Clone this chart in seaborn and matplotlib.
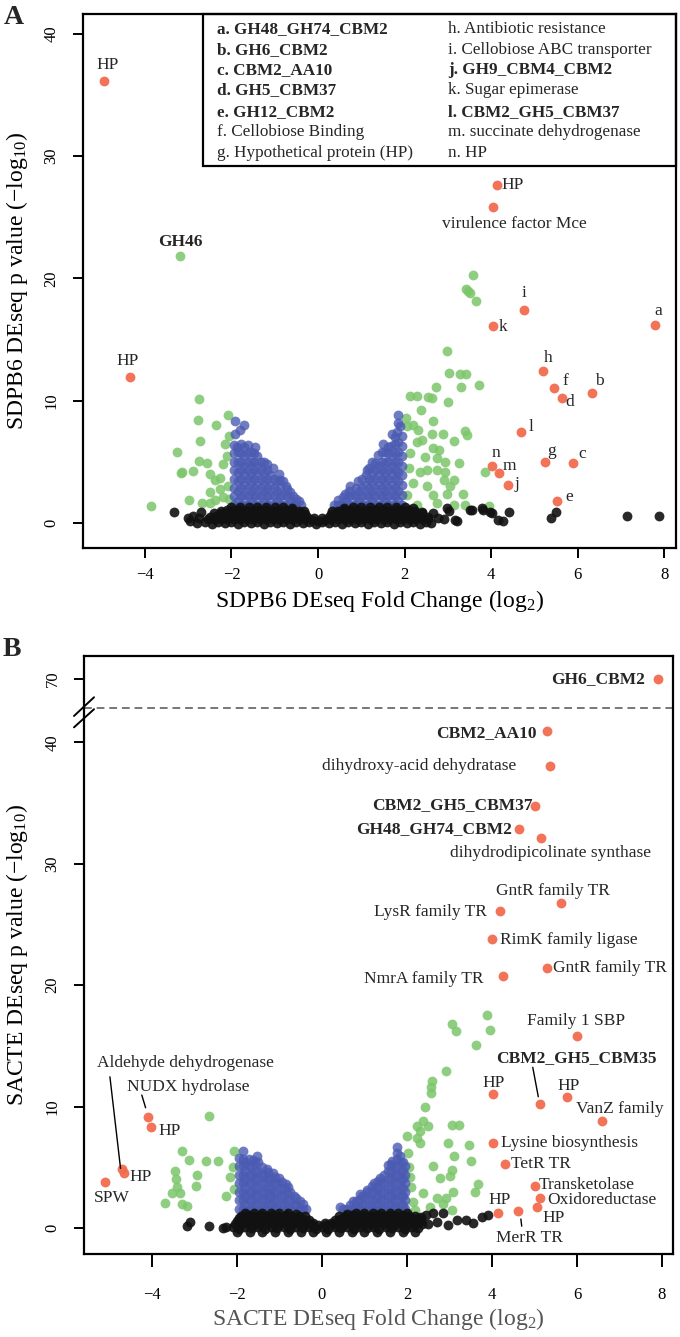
import numpy as np
import pandas as pd
import matplotlib
matplotlib.use('Agg')
import matplotlib.pyplot as plt
import seaborn as sns
from matplotlib.patches import Rectangle

sns.set_theme(style='white')
plt.rcParams['font.family'] = ['Liberation Serif', 'DejaVu Serif']
plt.rcParams['mathtext.fontset'] = 'custom'
plt.rcParams['mathtext.rm'] = 'Liberation Serif'
plt.rcParams['mathtext.it'] = 'Liberation Serif:italic'
plt.rcParams['axes.unicode_minus'] = True

RED = '#F26B4E'
GREEN = '#7CC66A'
BLUE = '#4B5BB2'
BLACK = '#111111'

# ---------------- Panel A data (SDPB6) ----------------
A_x_ticks = [-4, -2, 0, 2, 4, 6, 8]
A_y_ticks = [0, 10, 20, 30, 40]

A_green = [
    (-2.75, 10.1), (-2.78, 8.4), (-2.36, 8.0), (-2.07, 8.8), (-2.73, 6.7), (-3.26, 5.8),
    (-2.76, 5.1), (-2.56, 4.9), (-3.17, 4.1), (-2.88, 4.25), (-2.49, 4.0), (-2.19, 4.8),
    (-2.15, 6.5), (-2.05, 7.1), (-2.26, 3.65), (-2.38, 3.5), (-2.49, 2.5), (-2.26, 2.8),
    (-2.97, 1.9), (-2.69, 1.66), (-2.38, 1.9), (-3.86, 1.4), (-2.19, 2.15), (-2.07, 3.0),
    (-2.49, 1.6), (-3.15, 4.2), (-2.1, 5.5), (-2.05, 2.0),
    (3.57, 20.3), (3.41, 19.1), (3.51, 18.8), (3.65, 18.15), (3.46, 19.0), (2.99, 14.1),
    (3.03, 12.3), (3.28, 12.2), (3.41, 12.2), (3.30, 11.1), (3.73, 11.3), (2.73, 11.15),
    (2.12, 10.4), (2.28, 10.4), (2.55, 10.3), (2.63, 10.2), (3.0, 9.9), (2.39, 9.2),
    (2.03, 8.6), (2.65, 8.3), (2.32, 7.6), (2.63, 7.3), (2.88, 7.3), (3.39, 7.5),
    (3.44, 7.2), (3.13, 6.7), (2.29, 6.6), (2.66, 6.1), (2.12, 5.7), (2.47, 5.4),
    (2.74, 5.3), (2.93, 5.0), (3.26, 4.9), (2.36, 4.2), (2.51, 4.3), (2.74, 4.3),
    (2.93, 4.2), (3.86, 4.2), (2.2, 3.25), (2.51, 3.0), (2.9, 3.5), (3.13, 3.5),
    (2.66, 2.3), (2.97, 2.4), (3.36, 2.4), (2.28, 1.5), (2.74, 1.6), (3.13, 1.5),
    (3.39, 1.5), (2.05, 2.3), (2.05, 7.9), (3.95, 1.4), (2.2, 8.0), (2.4, 6.8),
    (2.8, 6.0), (3.05, 3.0), (2.1, 4.5),
]
A_gh46 = (-3.19, 21.8)

A_blue = [
    (-1.95, 1.5), (-1.95, 2.2), (-1.95, 2.9), (-1.95, 3.6), (-1.95, 4.3), (-1.95, 5.0),
    (-1.95, 5.7), (-1.95, 6.4), (-1.92, 7.3), (-1.92, 8.3),
    (-1.85, 1.8), (-1.85, 2.6), (-1.85, 3.4), (-1.85, 4.2), (-1.85, 5.0), (-1.85, 5.8), (-1.88, 6.2),
    (-1.78, 1.5), (-1.78, 2.2), (-1.78, 2.9), (-1.78, 3.6), (-1.78, 4.3), (-1.78, 5.0), (-1.78, 5.7), (-1.78, 6.5), (-1.80, 7.6),
    (-1.70, 1.5), (-1.70, 2.3), (-1.70, 3.1), (-1.70, 3.9), (-1.70, 4.7), (-1.70, 5.5), (-1.70, 6.2), (-1.70, 8.0),
    (-1.62, 1.5), (-1.62, 2.2), (-1.62, 2.9), (-1.62, 3.6), (-1.62, 4.3), (-1.62, 5.0), (-1.62, 5.7), (-1.62, 6.4),
    (-1.55, 1.8), (-1.55, 2.6), (-1.55, 3.4), (-1.55, 4.2), (-1.55, 5.0), (-1.55, 5.8), (-1.46, 6.2),
    (-1.48, 1.5), (-1.48, 2.2), (-1.48, 2.9), (-1.48, 3.6), (-1.48, 4.3), (-1.48, 5.0), (-1.48, 5.7),
    (-1.40, 1.5), (-1.40, 2.3), (-1.40, 3.1), (-1.40, 3.9), (-1.40, 4.7), (-1.40, 5.5),
    (-1.32, 1.5), (-1.32, 2.2), (-1.32, 2.9), (-1.32, 3.6), (-1.32, 4.3), (-1.32, 5.0),
    (-1.25, 1.8), (-1.25, 2.6), (-1.25, 3.4), (-1.25, 4.2), (-1.25, 5.0),
    (-1.18, 1.5), (-1.18, 2.2), (-1.18, 2.9), (-1.18, 3.6), (-1.18, 4.3), (-1.18, 4.8),
    (-1.10, 1.5), (-1.10, 2.3), (-1.10, 3.1), (-1.10, 3.9), (-1.03, 4.5),
    (-1.02, 1.5), (-1.02, 2.2), (-1.02, 2.9), (-1.02, 3.6),
    (-0.95, 1.8), (-0.95, 2.6), (-0.95, 3.4), (-0.90, 4.0),
    (-0.88, 1.5), (-0.88, 2.2), (-0.88, 2.9), (-0.88, 3.5),
    (-0.80, 1.5), (-0.80, 2.3), (-0.75, 3.0), (-0.80, 3.4),
    (-0.72, 1.5), (-0.72, 2.2), (-0.72, 2.8),
    (-0.65, 1.8), (-0.65, 2.5), (-0.58, 1.5), (-0.58, 2.2),
    (-0.50, 1.5), (-0.50, 2.0), (-0.45, 1.8), (-0.40, 1.5),
    (1.95, 1.5), (1.95, 2.3), (1.95, 3.1), (1.95, 3.9), (1.95, 4.7), (1.95, 5.5), (1.95, 6.3), (1.93, 7.1), (1.89, 7.9),
    (1.85, 1.8), (1.85, 2.6), (1.85, 3.4), (1.85, 4.2), (1.85, 5.0), (1.85, 5.8), (1.85, 6.6), (1.82, 7.4), (1.85, 8.2), (1.85, 8.8),
    (1.78, 1.5), (1.78, 2.2), (1.78, 2.9), (1.78, 3.6), (1.78, 4.3), (1.78, 5.0), (1.78, 5.7), (1.78, 6.5), (1.78, 7.0),
    (1.70, 1.5), (1.70, 2.3), (1.70, 3.1), (1.70, 3.9), (1.70, 4.7), (1.70, 5.5), (1.68, 6.3), (1.70, 7.3),
    (1.62, 1.5), (1.62, 2.2), (1.62, 2.9), (1.62, 3.6), (1.62, 4.3), (1.62, 5.0), (1.62, 5.7), (1.62, 6.2),
    (1.55, 1.8), (1.55, 2.6), (1.55, 3.4), (1.55, 4.2), (1.55, 5.0), (1.55, 5.8), (1.50, 6.5),
    (1.48, 1.5), (1.48, 2.2), (1.48, 2.9), (1.48, 3.6), (1.48, 4.3), (1.48, 5.0), (1.48, 5.8),
    (1.40, 1.5), (1.40, 2.3), (1.40, 3.1), (1.40, 3.9), (1.40, 4.7), (1.38, 5.6),
    (1.32, 1.5), (1.32, 2.2), (1.32, 2.9), (1.32, 3.6), (1.32, 4.3), (1.32, 4.9),
    (1.25, 1.8), (1.25, 2.6), (1.25, 3.4), (1.25, 4.2), (1.25, 5.0),
    (1.18, 1.5), (1.18, 2.2), (1.18, 2.9), (1.18, 3.6), (1.18, 4.5),
    (1.10, 1.5), (1.10, 2.3), (1.10, 3.1), (1.10, 3.9), (1.12, 4.3),
    (1.02, 1.5), (1.02, 2.2), (1.02, 2.9), (1.02, 3.6),
    (0.95, 1.8), (0.95, 2.6), (0.92, 3.4),
    (0.88, 1.5), (0.88, 2.2), (0.88, 2.9),
    (0.80, 1.5), (0.80, 2.3), (0.75, 3.0),
    (0.72, 1.5), (0.72, 2.2), (0.72, 2.6),
    (0.65, 1.8), (0.62, 2.4), (0.58, 1.5), (0.58, 2.1),
    (0.50, 1.5), (0.45, 1.9), (0.45, 1.5), (0.38, 1.5),
]

A_black = [
    (-3.33, 0.9), (-3.0, 0.4), (-2.9, 0.6), (-2.95, 0.15), (-2.75, 0.45), (-2.7, 0.9), (-2.8, 0.0),
    (-2.6, 0.05), (-2.45, -0.05), (-2.3, 0.1), (-2.15, 0.0), (-2.0, 0.05), (-1.85, -0.05),
    (-1.7, 0.1), (-1.55, 0.0), (-1.4, 0.05), (-1.25, -0.05), (-1.1, 0.1), (-0.95, 0.0),
    (-0.8, 0.05), (-0.65, -0.05), (-0.5, 0.1), (-0.35, 0.0), (-0.2, 0.05), (-0.05, -0.05),
    (0.1, 0.1), (0.25, 0.0), (0.4, 0.05), (0.55, -0.05), (0.7, 0.1), (0.85, 0.0),
    (1.0, 0.05), (1.15, -0.05), (1.3, 0.1), (1.45, 0.0), (1.6, 0.05), (1.75, -0.05),
    (1.9, 0.1), (2.05, 0.0), (2.2, 0.05), (2.35, -0.05), (2.5, 0.1), (2.62, 0.0),
    (-2.55, 0.3), (-2.4, 0.3), (-2.25, 0.3), (-2.1, 0.3), (-1.95, 0.3), (-1.8, 0.3),
    (-1.65, 0.3), (-1.5, 0.3), (-1.35, 0.3), (-1.2, 0.3), (-1.05, 0.3), (-0.9, 0.3),
    (-0.75, 0.3), (-0.6, 0.3), (-0.45, 0.3), (-0.3, 0.3), (-0.15, 0.25), (0.0, 0.2),
    (0.15, 0.25), (0.3, 0.3), (0.45, 0.3), (0.6, 0.3), (0.75, 0.3), (0.9, 0.3),
    (1.05, 0.3), (1.2, 0.3), (1.35, 0.3), (1.5, 0.3), (1.65, 0.3), (1.8, 0.3),
    (1.95, 0.3), (2.1, 0.3), (2.25, 0.3), (2.4, 0.3), (2.55, 0.3),
    (-2.5, 0.5), (-2.35, 0.6), (-2.2, 0.5), (-2.05, 0.55), (-1.9, 0.6), (-1.75, 0.5),
    (-1.6, 0.55), (-1.45, 0.6), (-1.3, 0.5), (-1.15, 0.55), (-1.0, 0.6), (-0.85, 0.5),
    (-0.7, 0.55), (-0.55, 0.6), (-0.4, 0.5), (-0.25, 0.5), (-0.1, 0.4), (0.1, 0.4),
    (0.25, 0.5), (0.4, 0.55), (0.55, 0.6), (0.7, 0.5), (0.85, 0.55), (1.0, 0.6),
    (1.15, 0.5), (1.3, 0.55), (1.45, 0.6), (1.6, 0.5), (1.75, 0.55), (1.9, 0.6),
    (2.05, 0.5), (2.2, 0.55), (2.35, 0.6), (2.55, 0.5),
    (-2.4, 0.8), (-2.25, 0.8), (-2.1, 0.8), (-1.95, 0.8), (-1.8, 0.8), (-1.65, 0.8),
    (-1.5, 0.8), (-1.35, 0.8), (-1.2, 0.8), (-1.05, 0.8), (-0.9, 0.8), (-0.75, 0.8),
    (-0.6, 0.8), (-0.45, 0.8), (-0.3, 0.75), (0.3, 0.75), (0.45, 0.8), (0.6, 0.8),
    (0.75, 0.8), (0.9, 0.8), (1.05, 0.8), (1.2, 0.8), (1.35, 0.8), (1.5, 0.8),
    (1.65, 0.8), (1.8, 0.8), (1.95, 0.8), (2.1, 0.8), (2.25, 0.8), (2.4, 0.8),
    (-2.25, 1.0), (-2.1, 1.1), (-1.95, 1.05), (-1.8, 1.1), (-1.65, 1.0), (-1.5, 1.1),
    (-1.35, 1.05), (-1.2, 1.1), (-1.05, 1.0), (-0.9, 1.1), (-0.75, 1.05), (-0.6, 1.1),
    (-0.45, 1.0), (-0.32, 0.95), (0.32, 0.95), (0.45, 1.0), (0.6, 1.1), (0.75, 1.05),
    (0.9, 1.1), (1.05, 1.0), (1.2, 1.1), (1.35, 1.05), (1.5, 1.1), (1.65, 1.0),
    (1.8, 1.1), (1.95, 1.05), (2.1, 1.1), (2.25, 1.0), (2.4, 0.9),
    (-2.0, 1.3), (-1.8, 1.3), (-1.6, 1.3), (-1.4, 1.3), (-1.2, 1.3), (-1.0, 1.3),
    (-0.8, 1.3), (-0.6, 1.25), (0.6, 1.25), (0.8, 1.3), (1.0, 1.3), (1.2, 1.3),
    (1.4, 1.3), (1.6, 1.3), (1.8, 1.3), (2.0, 1.3), (2.2, 1.25),
    (2.65, 0.8), (2.78, 0.4), (2.97, 1.2), (3.02, 0.95), (2.9, 0.3), (3.16, 0.25),
    (3.21, 0.2), (3.51, 1.1), (3.56, 1.05), (3.78, 1.2), (3.82, 1.1), (3.97, 0.9),
    (4.01, 0.85), (4.16, 0.25), (4.27, 0.2), (4.42, 0.9), (5.39, 0.4), (5.49, 0.9),
    (7.14, 0.6), (7.87, 0.6),
]

A_red_names = ['HP', 'HP', 'HP', 'virulence factor Mce', 'i', 'k', 'a', 'h', 'f', 'd',
               'b', 'l', 'n', 'm', 'g', 'c', 'j', 'e']
A_red_x = [-4.94, -4.34, 4.13, 4.04, 4.76, 4.04, 7.78, 5.20, 5.46, 5.63,
           6.34, 4.68, 4.03, 4.17, 5.24, 5.90, 4.40, 5.53]
A_red_y = [36.1, 11.9, 27.6, 25.8, 17.4, 16.1, 16.2, 12.4, 11.0, 10.2,
           10.6, 7.4, 4.7, 4.1, 5.0, 4.9, 3.1, 1.8]

A_legend_col1 = ['a. GH48_GH74_CBM2', 'b. GH6_CBM2', 'c. CBM2_AA10', 'd. GH5_CBM37',
                 'e. GH12_CBM2', 'f. Cellobiose Binding', 'g. Hypothetical protein (HP)']
A_legend_col1_bold = [True, True, True, True, True, False, False]
A_legend_col2 = ['h. Antibiotic resistance', 'i. Cellobiose ABC transporter', 'j. GH9_CBM4_CBM2',
                 'k. Sugar epimerase', 'l. CBM2_GH5_CBM37', 'm. succinate dehydrogenase', 'n. HP']
A_legend_col2_bold = [False, False, True, False, True, False, False]

# ---------------- Panel B data (SACTE) ----------------
B_x_ticks = [-4, -2, 0, 2, 4, 6, 8]
B_y_tick_values = [0, 10, 20, 30, 40, 70]

B_green = [
    (-2.66, 9.2), (-3.30, 6.3), (-3.12, 5.6), (-2.73, 5.55), (-2.44, 5.55), (-2.07, 6.3),
    (-3.46, 4.7), (-3.44, 4.0), (-2.93, 4.35), (-2.96, 3.5), (-3.40, 3.35), (-3.54, 2.9),
    (-3.34, 2.85), (-3.69, 2.1), (-3.30, 2.0), (-3.18, 1.8), (-2.16, 4.2), (-2.26, 2.6),
    (-2.07, 3.2), (-2.1, 5.0),
    (3.89, 17.5), (3.95, 16.3), (3.07, 16.8), (3.15, 16.2), (3.62, 15.1), (2.91, 12.9),
    (2.58, 12.1), (2.56, 11.6), (2.56, 11.1), (2.42, 10.0), (2.37, 8.8), (2.24, 8.4),
    (2.50, 8.4), (3.07, 8.5), (3.23, 8.5), (1.99, 7.6), (2.23, 7.4), (2.31, 7.0),
    (2.96, 7.0), (3.46, 6.8), (2.03, 6.15), (3.11, 5.9), (3.51, 5.5), (2.62, 5.1),
    (3.05, 4.8), (2.07, 4.2), (2.78, 4.1), (3.01, 4.3), (3.68, 3.6), (3.60, 3.0),
    (2.09, 3.4), (2.38, 2.85), (2.70, 2.45), (2.93, 2.45), (3.09, 3.0), (2.15, 2.15),
    (2.54, 1.75), (3.05, 1.5), (2.20, 1.5), (2.30, 8.0), (2.05, 5.0), (2.85, 2.0),
]

B_blue = [
    (-1.95, 1.6), (-1.95, 2.3), (-1.95, 3.0), (-1.95, 3.7), (-1.95, 4.4), (-1.95, 5.1), (-1.95, 5.8), (-1.87, 6.3),
    (-1.87, 1.6), (-1.87, 2.3), (-1.87, 3.0), (-1.87, 3.7), (-1.87, 4.4), (-1.87, 5.1), (-1.87, 5.7),
    (-1.80, 1.9), (-1.80, 2.6), (-1.80, 3.3), (-1.80, 4.0), (-1.80, 4.7), (-1.80, 5.4),
    (-1.72, 1.6), (-1.72, 2.3), (-1.72, 3.0), (-1.72, 3.7), (-1.72, 4.4), (-1.72, 5.1), (-1.72, 5.7),
    (-1.65, 1.6), (-1.65, 2.3), (-1.65, 3.0), (-1.65, 3.7), (-1.65, 4.4), (-1.65, 5.1), (-1.62, 5.6),
    (-1.57, 1.9), (-1.57, 2.6), (-1.57, 3.3), (-1.57, 4.0), (-1.57, 4.7), (-1.57, 5.4),
    (-1.50, 1.9), (-1.50, 2.6), (-1.50, 3.3), (-1.50, 4.0), (-1.50, 4.7), (-1.50, 5.4), (-1.54, 5.9),
    (-1.42, 1.6), (-1.42, 2.3), (-1.42, 3.0), (-1.42, 3.7), (-1.42, 4.4), (-1.42, 5.0),
    (-1.35, 1.6), (-1.35, 2.3), (-1.35, 3.0), (-1.35, 3.7), (-1.35, 4.4), (-1.30, 4.9),
    (-1.27, 1.9), (-1.27, 2.6), (-1.27, 3.3), (-1.27, 4.0), (-1.27, 4.6),
    (-1.20, 1.9), (-1.20, 2.6), (-1.20, 3.3), (-1.20, 4.0), (-1.15, 4.5),
    (-1.12, 1.6), (-1.12, 2.3), (-1.12, 3.0), (-1.12, 3.7), (-1.10, 4.2),
    (-1.05, 1.6), (-1.05, 2.3), (-1.05, 3.0), (-1.05, 3.7), (-1.00, 4.1),
    (-0.97, 1.9), (-0.97, 2.6), (-0.97, 3.3), (-0.95, 3.8),
    (-0.90, 1.9), (-0.90, 2.6), (-0.90, 3.3), (-0.85, 3.6),
    (-0.82, 1.6), (-0.82, 2.3), (-0.82, 3.0), (-0.80, 3.4),
    (-0.75, 1.6), (-0.75, 2.3), (-0.75, 3.0),
    (-0.67, 1.9), (-0.67, 2.6), (-0.60, 1.9), (-0.60, 2.5),
    (-0.52, 1.6), (-0.52, 2.2), (-0.45, 1.6), (-0.45, 2.0), (-0.38, 1.6),
    (1.95, 1.6), (1.95, 2.3), (1.95, 3.0), (1.95, 3.7), (1.95, 4.4), (1.95, 5.1),
    (1.90, 1.9), (1.90, 2.6), (1.90, 3.3), (1.90, 4.0), (1.90, 4.7), (1.90, 5.4),
    (1.85, 1.9), (1.85, 2.6), (1.85, 3.3), (1.85, 4.0), (1.85, 4.7), (1.85, 5.4), (1.84, 5.9),
    (1.76, 6.7), (1.76, 6.2),
    (1.77, 1.6), (1.77, 2.3), (1.77, 3.0), (1.77, 3.7), (1.77, 4.4), (1.77, 5.1), (1.77, 5.7),
    (1.70, 1.6), (1.70, 2.3), (1.70, 3.0), (1.70, 3.7), (1.70, 4.4), (1.70, 5.1), (1.65, 5.5),
    (1.62, 1.9), (1.62, 2.6), (1.62, 3.3), (1.62, 4.0), (1.62, 4.7), (1.62, 5.3),
    (1.55, 1.9), (1.55, 2.6), (1.55, 3.3), (1.55, 4.0), (1.55, 4.7), (1.56, 5.2),
    (1.47, 1.6), (1.47, 2.3), (1.47, 3.0), (1.47, 3.7), (1.47, 4.4),
    (1.40, 1.6), (1.40, 2.3), (1.40, 3.0), (1.40, 3.7), (1.36, 4.1),
    (1.32, 1.9), (1.32, 2.6), (1.32, 3.3), (1.32, 3.9),
    (1.25, 1.9), (1.25, 2.6), (1.25, 3.3), (1.22, 3.7),
    (1.17, 1.6), (1.17, 2.3), (1.17, 3.0), (1.17, 3.5),
    (1.10, 1.6), (1.10, 2.3), (1.05, 3.0), (1.05, 3.1),
    (1.02, 1.9), (1.02, 2.6),
    (0.95, 1.9), (0.95, 2.6), (0.90, 2.8),
    (0.87, 1.6), (0.87, 2.3), (0.80, 1.6), (0.80, 2.2), (0.74, 2.2),
    (0.72, 1.6), (0.65, 1.9), (0.58, 1.6), (0.50, 1.6), (0.42, 1.75),
]

B_black = [
    (-3.11, 0.5), (-3.18, 0.15), (-2.65, 0.15), (-2.34, 0.0), (-2.25, 0.1),
    (-2.1, 0.05), (-1.95, -0.05), (-1.8, 0.1), (-1.65, 0.0), (-1.5, 0.05), (-1.35, -0.05),
    (-1.2, 0.1), (-1.05, 0.0), (-0.9, 0.05), (-0.75, -0.05), (-0.6, 0.1), (-0.45, 0.0),
    (-0.3, 0.05), (-0.15, -0.05), (0.0, 0.05), (0.15, -0.05), (0.3, 0.1), (0.45, 0.0),
    (0.6, 0.05), (0.75, -0.05), (0.9, 0.1), (1.05, 0.0), (1.2, 0.05), (1.35, -0.05),
    (1.5, 0.1), (1.65, 0.0), (1.8, 0.05), (1.95, -0.05), (2.1, 0.1), (2.25, 0.0),
    (-2.0, -0.3), (-1.7, -0.3), (-1.4, -0.3), (-1.1, -0.3), (-0.8, -0.3), (-0.5, -0.3),
    (-0.2, -0.3), (0.1, -0.3), (0.4, -0.3), (0.7, -0.3), (1.0, -0.3), (1.3, -0.3),
    (1.6, -0.3), (1.9, -0.3), (2.2, -0.3),
    (-2.05, 0.3), (-1.9, 0.3), (-1.75, 0.3), (-1.6, 0.3), (-1.45, 0.3), (-1.3, 0.3),
    (-1.15, 0.3), (-1.0, 0.3), (-0.85, 0.3), (-0.7, 0.3), (-0.55, 0.3), (-0.4, 0.3),
    (-0.25, 0.3), (-0.1, 0.25), (0.1, 0.25), (0.25, 0.3), (0.4, 0.3), (0.55, 0.3),
    (0.7, 0.3), (0.85, 0.3), (1.0, 0.3), (1.15, 0.3), (1.3, 0.3), (1.45, 0.3),
    (1.6, 0.3), (1.75, 0.3), (1.9, 0.3), (2.05, 0.3), (2.2, 0.3), (2.35, 0.3),
    (-2.0, 0.55), (-1.85, 0.5), (-1.7, 0.6), (-1.55, 0.5), (-1.4, 0.55), (-1.25, 0.6),
    (-1.1, 0.5), (-0.95, 0.55), (-0.8, 0.6), (-0.65, 0.5), (-0.5, 0.55), (-0.35, 0.5),
    (-0.2, 0.45), (0.08, 0.4), (0.22, 0.45), (0.38, 0.5), (0.52, 0.55), (0.68, 0.6),
    (0.82, 0.5), (0.98, 0.55), (1.12, 0.6), (1.28, 0.5), (1.42, 0.55), (1.58, 0.6),
    (1.72, 0.5), (1.88, 0.55), (2.02, 0.6), (2.18, 0.5), (2.32, 0.55),
    (-1.95, 0.8), (-1.8, 0.8), (-1.65, 0.8), (-1.5, 0.8), (-1.35, 0.8), (-1.2, 0.8),
    (-1.05, 0.8), (-0.9, 0.8), (-0.75, 0.8), (-0.6, 0.8), (-0.45, 0.75), (-0.3, 0.7),
    (0.3, 0.7), (0.45, 0.75), (0.6, 0.8), (0.75, 0.8), (0.9, 0.8), (1.05, 0.8),
    (1.2, 0.8), (1.35, 0.8), (1.5, 0.8), (1.65, 0.8), (1.8, 0.8), (1.95, 0.8),
    (2.1, 0.8), (2.25, 0.8),
    (-1.9, 1.0), (-1.75, 1.05), (-1.6, 1.0), (-1.45, 1.05), (-1.3, 1.0), (-1.15, 1.05),
    (-1.0, 1.0), (-0.85, 1.05), (-0.7, 1.0), (-0.55, 1.0), (-0.4, 0.95),
    (0.4, 0.95), (0.55, 1.0), (0.7, 1.05), (0.85, 1.0), (1.0, 1.05), (1.15, 1.0),
    (1.3, 1.05), (1.45, 1.0), (1.6, 1.05), (1.75, 1.0), (1.9, 1.05), (2.05, 1.0), (2.2, 0.95),
    (-1.8, 1.2), (-1.6, 1.2), (-1.4, 1.2), (-1.2, 1.2), (-1.0, 1.2), (-0.8, 1.2),
    (-0.6, 1.15), (0.6, 1.15), (0.8, 1.2), (1.0, 1.2), (1.2, 1.2), (1.4, 1.2),
    (1.6, 1.2), (1.8, 1.2), (2.0, 1.2),
    (2.34, 0.9), (2.62, 1.2), (2.85, 1.2), (2.97, 0.25), (3.17, 0.65), (3.4, 0.65),
    (3.56, 0.4), (3.76, 0.9), (3.9, 1.1), (2.5, 0.3), (2.7, 0.5), (2.45, 1.1),
]

B_red_names = ['GH6_CBM2', 'CBM2_AA10', 'dihydroxy-acid dehydratase', 'CBM2_GH5_CBM37',
               'GH48_GH74_CBM2', 'dihydrodipicolinate synthase', 'GntR family TR', 'LysR family TR',
               'RimK family ligase', 'NmrA family TR', 'GntR family TR', 'Family 1 SBP',
               'CBM2_GH5_CBM35', 'HP', 'HP', 'VanZ family', 'Lysine biosynthesis', 'TetR TR',
               'Transketolase', 'Oxidoreductase', 'HP', 'HP', 'MerR TR',
               'NUDX hydrolase', 'HP', 'Aldehyde dehydrogenase', 'HP', 'SPW']
B_red_x = [7.90, 5.30, 5.36, 5.01, 4.64, 5.15, 5.62, 4.19, 4.01, 4.27, 5.30, 6.01,
           5.13, 4.02, 5.77, 6.58, 4.02, 4.31, 5.01, 5.13, 5.07, 4.15, 4.62,
           -4.09, -4.02, -4.71, -4.67, -5.11]
B_red_y = [70.0, 40.9, 38.05, 34.75, 32.85, 32.15, 26.8, 26.1, 23.8, 20.75, 21.4, 15.8,
           10.25, 11.0, 10.75, 8.8, 7.0, 5.25, 3.45, 2.5, 1.75, 1.26, 1.4,
           9.1, 8.35, 4.9, 4.5, 3.8]

# ---------------- layout ----------------
BREAK_SHIFT = 24.8   # values above the axis break are drawn this much lower


def ybreak(v):
    return v if v < 50 else v - BREAK_SHIFT


fig = plt.figure(figsize=(6.8, 13.37), dpi=100)
W, H = 680.0, 1337.0
axA = fig.add_axes([83 / W, 1 - 548 / H, (676 - 83) / W, (548 - 14) / H])
axB = fig.add_axes([84 / W, 1 - 1254 / H, (673 - 84) / W, (1254 - 656) / H])

MS = 50
LBL = 12.5


def scatter_group(ax, pts, color, alpha, yfun=lambda v: v):
    df = pd.DataFrame(pts, columns=['x', 'y'])
    df['y'] = df['y'].map(yfun)
    sns.scatterplot(data=df, x='x', y='y', ax=ax, color=color, alpha=alpha,
                    s=MS, linewidth=0, legend=False, zorder=2)


def style_axes(ax):
    for sp in ax.spines.values():
        sp.set_visible(True)
        sp.set_color('black')
        sp.set_linewidth(1.6)
    ax.tick_params(axis='both', direction='out', length=7, width=1.4, colors='black',
                   labelsize=12, bottom=True, left=True)
    ax.grid(False)
    ax.set_facecolor('white')


# ---------- Panel A ----------
scatter_group(axA, A_green, GREEN, 0.85)
scatter_group(axA, [A_gh46], GREEN, 0.85)
scatter_group(axA, A_blue, BLUE, 0.8)
scatter_group(axA, A_black, BLACK, 0.9)
dfAr = pd.DataFrame({'x': A_red_x, 'y': A_red_y, 'name': A_red_names})
sns.scatterplot(data=dfAr, x='x', y='y', ax=axA, color=RED, s=MS, linewidth=0,
                alpha=0.95, legend=False, zorder=3)

axA.set_xlim(-5.43, 8.27)
axA.set_ylim(-2.04, 41.6)
axA.set_xticks(A_x_ticks)
axA.set_yticks(A_y_ticks)
style_axes(axA)
axA.tick_params(axis='x', pad=7)
axA.tick_params(axis='y', pad=10)
for lab in axA.get_yticklabels():
    lab.set_rotation(90)
    lab.set_va('center')

# label positions for the red points (text centres, data coords)
A_label_pos = [(-4.86, 37.4), (-4.39, 13.25), (4.50, 27.64), (4.53, 24.45), (4.76, 18.8),
               (4.27, 16.0), (7.85, 17.3), (5.31, 13.47), (5.71, 11.64), (5.81, 9.92),
               (6.49, 11.6), (4.93, 7.87), (4.10, 5.7), (4.42, 4.66), (5.39, 5.91),
               (6.11, 5.64), (4.60, 3.16), (5.81, 2.15)]
for name, (tx, ty) in zip(A_red_names, A_label_pos):
    axA.text(tx, ty, name, fontsize=LBL, ha='center', va='center', zorder=4)
axA.text(-3.18, 23.0, 'GH46', fontsize=LBL, fontweight='bold', ha='center', va='center')

# legend box
axA.add_patch(Rectangle(((203 - 83) / 593, (548 - 166) / 534), 1 - (203 - 83) / 593,
                        1 - (548 - 166) / 534, transform=axA.transAxes, fill=False,
                        edgecolor='black', linewidth=1.6, zorder=5, clip_on=False))
rows_y = [0.972, 0.9326, 0.895, 0.8577, 0.8165, 0.779, 0.7397]
for txt, b, ry in zip(A_legend_col1, A_legend_col1_bold, rows_y):
    axA.text(0.226, ry, txt, transform=axA.transAxes, fontsize=12.3,
             fontweight='bold' if b else 'normal', ha='left', va='center')
for txt, b, ry in zip(A_legend_col2, A_legend_col2_bold, rows_y):
    axA.text(0.6155, ry, txt, transform=axA.transAxes, fontsize=12.3,
             fontweight='bold' if b else 'normal', ha='left', va='center')

axA.set_xlabel('SDPB6 DEseq Fold Change (log$_2$)', fontsize=17, color='black')
axA.set_ylabel('SDPB6 DEseq p value (\u2212log$_{10}$)', fontsize=17, color='black')
axA.xaxis.set_label_coords(0.5, -0.075)
axA.yaxis.set_label_coords(-0.089, 0.5)

# ---------- Panel B ----------
scatter_group(axB, B_green, GREEN, 0.85)
scatter_group(axB, B_blue, BLUE, 0.8)
scatter_group(axB, B_black, BLACK, 0.9)
dfBr = pd.DataFrame({'x': B_red_x, 'y': [ybreak(v) for v in B_red_y], 'name': B_red_names})
sns.scatterplot(data=dfBr, x='x', y='y', ax=axB, color=RED, s=MS, linewidth=0,
                alpha=0.95, legend=False, zorder=3)

axB.set_xlim(-5.6, 8.26)
axB.set_ylim(-2.14, 47.1)
axB.set_xticks(B_x_ticks)
axB.set_yticks([ybreak(v) for v in B_y_tick_values])
axB.set_yticklabels([str(v) for v in B_y_tick_values])
style_axes(axB)
axB.tick_params(axis='x', pad=15, length=9)
axB.tick_params(axis='y', pad=10)
for lab in axB.get_yticklabels():
    lab.set_rotation(90)
    lab.set_va('center')

axB.axhline(42.8, color='#777777', linestyle=(0, (4, 2.5)), linewidth=1.4, zorder=1)
# axis break marks
for (x0, y0, x1, y1) in [(-0.017, 0.8997, 0.017, 0.931), (-0.017, 0.8807, 0.017, 0.911)]:
    axB.plot([x0, x1], [y0, y1], transform=axB.transAxes, color='black', linewidth=1.4,
             clip_on=False, zorder=6)

# label specs: (text x, text y, ha, bold)
B_label_pos = [
    (7.60, 45.2, 'right', True), (5.05, 40.74, 'right', True), (4.58, 38.05, 'right', False),
    (4.96, 34.8, 'right', True), (4.46, 32.84, 'right', True), (5.38, 30.84, 'center', False),
    (5.44, 27.76, 'center', False), (3.87, 26.0, 'right', False), (4.19, 23.7, 'left', False),
    (3.81, 20.5, 'right', False), (5.44, 21.4, 'left', False), (5.99, 17.06, 'center', False),
    (5.98, 13.97, 'center', True), (4.05, 11.9, 'center', False), (5.80, 11.69, 'center', False),
    (7.01, 9.79, 'center', False), (4.21, 7.02, 'left', False), (4.44, 5.24, 'left', False),
    (5.11, 3.51, 'left', False), (5.30, 2.30, 'left', False), (5.44, 0.80, 'center', False),
    (4.19, 2.30, 'center', False), (4.89, -0.80, 'center', False),
    (-3.15, 11.63, 'center', False), (-3.85, 8.0, 'left', False), (-3.22, 13.56, 'center', False),
    (-4.52, 4.17, 'left', False), (-4.95, 2.44, 'center', False),
]
for name, (tx, ty, ha, bold) in zip(B_red_names, B_label_pos):
    axB.text(tx, ty, name, fontsize=LBL, ha=ha, va='center',
             fontweight='bold' if bold else 'normal', zorder=4)

# leader lines
for (x0, y0, x1, y1) in [(4.96, 13.23, 5.09, 10.81), (4.68, 0.74, 4.70, 0.15),
                         (-4.99, 12.45, -4.74, 4.91), (-4.24, 10.95, -4.15, 9.9)]:
    axB.plot([x0, x1], [y0, y1], color='black', linewidth=1.0, zorder=3)

axB.set_xlabel('SACTE DEseq Fold Change (log$_2$)', fontsize=17, color='#555555')
axB.set_ylabel('SACTE DEseq p value (\u2212log$_{10}$)', fontsize=17, color='black')
axB.xaxis.set_label_coords(0.5, -0.087)
axB.yaxis.set_label_coords(-0.092, 0.5)

fig.text(14 / W, 1 - 17 / H, 'A', fontsize=20, fontweight='bold', ha='center', va='center')
fig.text(12 / W, 1 - 650 / H, 'B', fontsize=20, fontweight='bold', ha='center', va='center')

fig.savefig('out.png', dpi=100, facecolor='white')
